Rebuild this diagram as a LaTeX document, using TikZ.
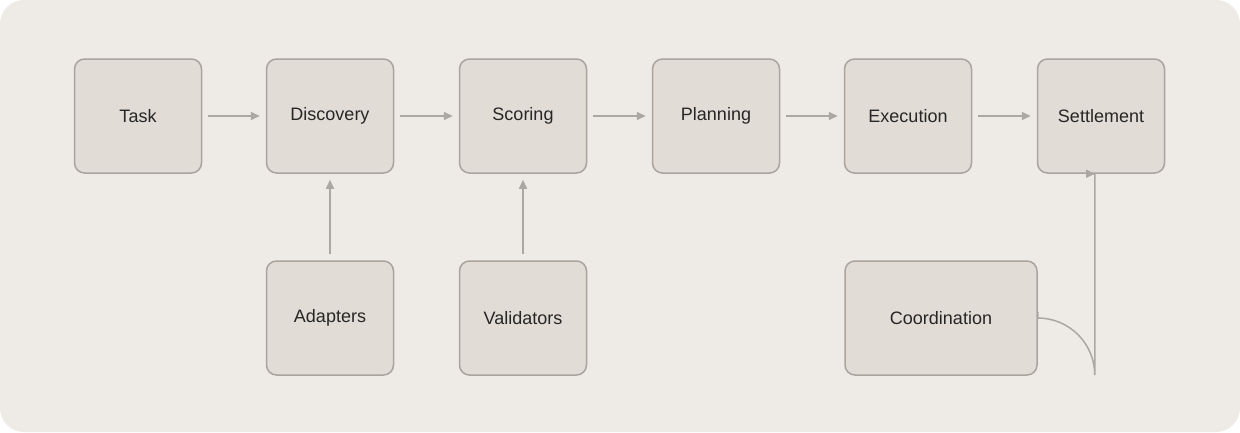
\documentclass[tikz,border=0pt]{standalone}
\usepackage{fontspec}
\setmainfont{Liberation Sans}
\usetikzlibrary{arrows.meta}
\definecolor{bg}{HTML}{EEEAE5}
\definecolor{boxf}{HTML}{E1DCD5}
\definecolor{boxd}{HTML}{A9A49E}
\definecolor{arr}{HTML}{ABA7A2}
\begin{document}
\begin{tikzpicture}[x=1pt,y=-1pt,
  box/.style={draw=boxd,fill=boxf,line width=1.5pt,rounded corners=10pt,minimum width=127pt,minimum height=114pt,font=\fontsize{18}{20}\selectfont,text=black!85},
  ar/.style={draw=arr,line width=1.5pt,-{Triangle[length=9pt,width=8pt]},shorten <=6pt,shorten >=6pt}]
\fill[white] (0,0) rectangle (1240,432);
\fill[bg,rounded corners=24pt] (0,0) rectangle (1240,432);
\useasboundingbox (0,0) rectangle (1240,432);
\node[box] (task) at (138,116) {Task};
\node[box] (disc) at (330,116) {Discovery};
\node[box] (scor) at (523,116) {Scoring};
\node[box] (plan) at (716,116) {Planning};
\node[box] (exec) at (908,116) {Execution};
\node[box] (sett) at (1101,116) {Settlement};
\node[box] (adap) at (330,318) {Adapters};
\node[box] (vali) at (523,318) {Validators};
\node[box,minimum width=192pt] (coor) at (941,318) {Coordination};
\draw[ar] (task) -- (disc);
\draw[ar] (disc) -- (scor);
\draw[ar] (scor) -- (plan);
\draw[ar] (plan) -- (exec);
\draw[ar] (exec) -- (sett);
\draw[ar] (adap) -- (disc);
\draw[ar] (vali) -- (scor);
\draw[ar] (coor.east) -- ++(0,0) arc[start angle=-90,end angle=0,radius=57] |- (sett.south);
\end{tikzpicture}
\end{document}
